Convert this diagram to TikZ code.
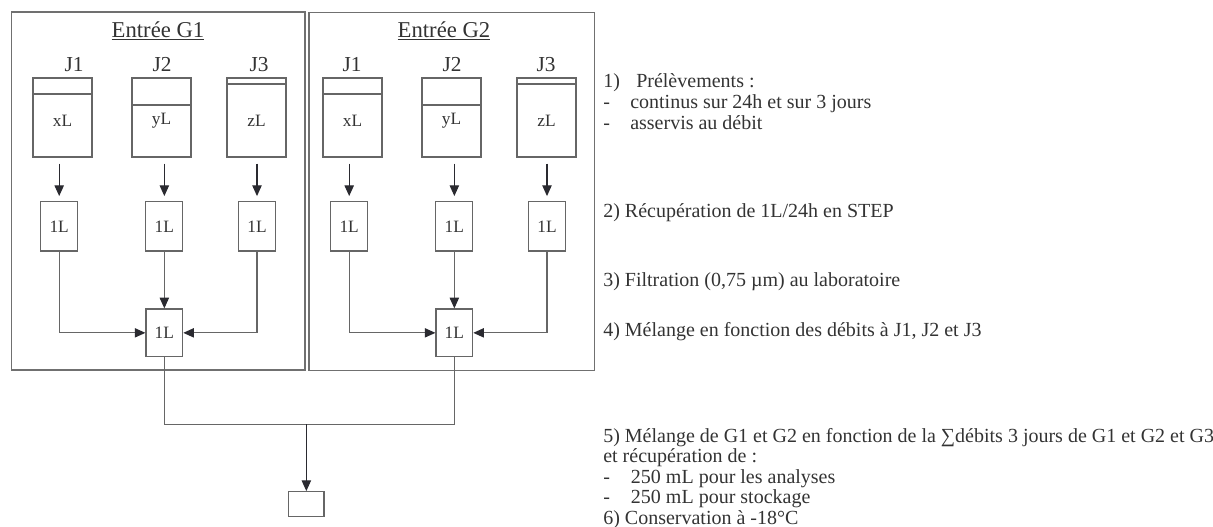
\documentclass[tikz,border=0pt]{standalone}
\usepackage{fontspec}
\setmainfont{Liberation Serif}
\usetikzlibrary{arrows.meta}
\definecolor{boxgray}{HTML}{666666}
\definecolor{framegray}{HTML}{707070}
\definecolor{arrcol}{HTML}{2A2A30}
\definecolor{txt}{HTML}{333333}
\begin{document}
\begin{tikzpicture}[x=0.75pt,y=-0.75pt,
  frame/.style={draw=framegray,line width=0.8pt,inner sep=0pt,minimum height=268.5pt},
  cont/.style={draw=boxgray,line width=0.9pt,inner sep=0pt,minimum width=44.25pt,minimum height=59.25pt},
  smallbox/.style={draw=boxgray,line width=0.9pt,inner sep=0pt,minimum width=27.75pt,minimum height=37pt,font=\fontsize{13}{15}\selectfont,text=txt},
  mixbox/.style={draw=boxgray,line width=0.9pt,inner sep=0pt,minimum width=27.5pt,minimum height=35.8pt,font=\fontsize{13}{15}\selectfont,text=txt},
  lbl/.style={font=\fontsize{13}{15}\selectfont,text=txt,inner sep=0pt},
  title/.style={font=\fontsize{17}{19}\selectfont,text=txt,anchor=base,inner sep=0pt},
  jlab/.style={font=\fontsize{16}{18}\selectfont,text=txt,anchor=base,inner sep=0pt},
  rtext/.style={font=\fontsize{15}{17}\selectfont,text=txt,anchor=base west,inner sep=0pt},
  sep/.style={draw=boxgray,line width=0.9pt},
  conn/.style={draw=boxgray,line width=0.8pt},
  arr/.style={draw=arrcol,line width=0.8pt,-{Triangle[length=8pt,width=7pt]}},
  carr/.style={draw=boxgray,line width=0.8pt,-{Triangle[length=8pt,width=7pt,color=arrcol]}}
]
\useasboundingbox (0,0) rectangle (1213,527);

% group frames
\node[frame,minimum width=220pt] (g1) at (158.35,191) {};
\node[frame,minimum width=214pt] (g2) at (451.65,191.3) {};
\node[title] (t1) at (158,37.3) {\underline{Entrée G1}};
\node[title] (t2) at (444,37.3) {\underline{Entrée G2}};

% day labels
\node[jlab] (j11) at (74,71.5) {J1};
\node[jlab] (j12) at (162,71.5) {J2};
\node[jlab] (j13) at (259,71.5) {J3};
\node[jlab] (j21) at (352,71.5) {J1};
\node[jlab] (j22) at (452,71.5) {J2};
\node[jlab] (j23) at (546,71.5) {J3};

% containers G1
\node[cont,label={[lbl,yshift=-2.6pt]center:xL}] (c11) at (62.5,117.5) {};
\node[cont,label={[lbl,yshift=-2.6pt]center:yL}] (c12) at (161.5,117.5) {};
\node[cont,label={[lbl,yshift=-2.6pt]center:zL}] (c13) at (256.5,117.5) {};
% containers G2
\node[cont,label={[lbl,yshift=-2.6pt]center:xL}] (c21) at (352.5,117.5) {};
\node[cont,label={[lbl,yshift=-2.6pt]center:yL}] (c22) at (451.5,117.5) {};
\node[cont,label={[lbl,yshift=-2.6pt]center:zL}] (c23) at (546.5,117.5) {};
% level lines
\foreach \c/\y in {c11/94,c12/105,c13/84,c21/94,c22/105,c23/84}{
  \draw[sep] (\c.west |- 0,\y) -- (\c.east |- 0,\y);
}

% 1L boxes
\node[smallbox] (s11) at (59.2,226.35) {1L};
\node[smallbox] (s12) at (164.35,226.35) {1L};
\node[smallbox] (s13) at (257,226.35) {1L};
\node[smallbox] (s21) at (349.2,226.35) {1L};
\node[smallbox] (s22) at (454.35,226.35) {1L};
\node[smallbox] (s23) at (547,226.35) {1L};

% mixing boxes
\node[mixbox] (m1) at (164.35,332.85) {1L};
\node[mixbox] (m2) at (454.35,332.85) {1L};

% final box
\node[draw=boxgray,line width=0.9pt,inner sep=0pt,minimum width=26.5pt,minimum height=18.75pt] (fin) at (306.35,504.2) {};

% arrows containers -> 1L
\foreach \i in {11,12,13,21,22,23}{
  \draw[arr,shorten <=4.5pt,shorten >=3.75pt] (s\i.north |- c\i.south) -- (s\i.north);
}

% 1L -> mixing
\draw[carr] (s11.south) |- (m1.west);
\draw[carr] (s12.south) -- (m1.north);
\draw[carr] (s13.south) |- (m1.east);
\draw[carr] (s21.south) |- (m2.west);
\draw[carr] (s22.south) -- (m2.north);
\draw[carr] (s23.south) |- (m2.east);

% final merge
\coordinate (jn) at (306.35,424.3);
\draw[conn] (m1.south) |- (jn);
\draw[conn] (m2.south) |- (jn);
\draw[arr] (jn) -- (fin.north);

% right-hand text
\node[rtext] (r1a) at (603,87.3) {1)};
\node[rtext] (r1b) at (636,87.3) {Prélèvements :};
\node[rtext] (r1c) at (603,108.5) {-};
\node[rtext] (r1d) at (630,108.5) {continus sur 24h et sur 3 jours};
\node[rtext] (r1e) at (603,129.5) {-};
\node[rtext] (r1f) at (630,129.5) {asservis au débit};
\node[rtext] (r2) at (603,218) {2) Récupération de 1L/24h en STEP};
\node[rtext] (r3) at (603,286.5) {3) Filtration (0,75 µm) au laboratoire};
\node[rtext] (r4) at (603,336.5) {4) Mélange en fonction des débits à J1, J2 et J3};
\node[rtext] (r5a) at (603,442) {5) Mélange de G1 et G2 en fonction de la ∑débits 3 jours de G1 et G2 et G3};
\node[rtext] (r5b) at (603,462.5) {et récupération de :};
\node[rtext] (r5c) at (603,483) {-};
\node[rtext] (r5d) at (630.7,483) {250 mL pour les analyses};
\node[rtext] (r5e) at (603,503.5) {-};
\node[rtext] (r5f) at (630.7,503.5) {250 mL pour stockage};
\node[rtext] (r6) at (603,524.5) {6) Conservation à -18°C};
\end{tikzpicture}
\end{document}
